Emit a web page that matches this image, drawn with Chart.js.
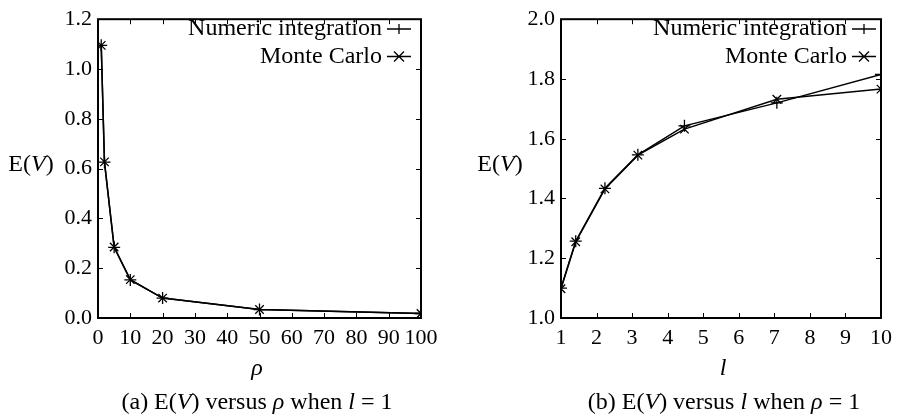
<!DOCTYPE html>
<html>
<head>
<meta charset="utf-8">
<script src="https://cdn.jsdelivr.net/npm/chart.js@4.4.0/dist/chart.umd.min.js"></script>
<style>
  body { margin: 0; background: #fff; }
  #wrap { position: relative; width: 899px; height: 416px; font-family: "Liberation Serif", serif; color: #000; }
  .box { position: absolute; top: 0; height: 416px; }
  .lbl { position: absolute; font-size: 24px; white-space: nowrap; transform: translate(-50%, -50%); }
  i { font-style: italic; }
</style>
</head>
<body>
<div id="wrap">
  <div class="box" style="left:0;width:450px"><canvas id="chartA" width="450" height="416"></canvas></div>
  <div class="box" style="left:450px;width:449px"><canvas id="chartB" width="449" height="416"></canvas></div>
  <div class="lbl" style="left:31px;top:163px">E(<i>V</i>)</div>
  <div class="lbl" style="left:500px;top:163px">E(<i>V</i>)</div>
  <div class="lbl" style="left:257px;top:367px"><i>ρ</i></div>
  <div class="lbl" style="left:723px;top:367px"><i>l</i></div>
  <div class="lbl" style="left:257px;top:401px">(a) E(<i>V</i>) versus <i>ρ</i> when <i>l</i> = 1</div>
  <div class="lbl" style="left:724px;top:401px">(b) E(<i>V</i>) versus <i>l</i> when <i>ρ</i> = 1</div>
</div>
<script>
// chart (a): E(V) against rho, l = 1
const rhoValues = [1, 2, 5, 10, 20, 50, 100];
const numericA = [1.095, 0.626, 0.284, 0.153, 0.080, 0.034, 0.018];
const monteCarloA = [1.095, 0.627, 0.285, 0.154, 0.080, 0.034, 0.018];

// chart (b): E(V) against l, rho = 1
const lValues = [1, 1.414, 2.236, 3.162, 4.472, 7.071, 10];
const numericB = [1.100, 1.257, 1.434, 1.546, 1.643, 1.720, 1.815];
const monteCarloB = [1.098, 1.255, 1.432, 1.545, 1.632, 1.732, 1.766];

const seriesNames = ["Numeric integration", "Monte Carlo"];
const FONT = "Liberation Serif";
const TICK_FONT = { family: FONT, size: 22 };

function toPoints(xs, ys) {
  return xs.map((x, i) => ({ x: x, y: ys[i] }));
}

// gnuplot-like frame: box border, inward ticks on all sides, legend on the right
const framePlugin = {
  id: "frame",
  afterDraw(chart, args, opts) {
    const ctx = chart.ctx;
    const a = chart.chartArea;
    const len = 5;
    ctx.save();
    ctx.strokeStyle = "#000";
    ctx.lineWidth = 1;
    const xs = chart.scales.x, ys = chart.scales.y;
    xs.ticks.forEach((t) => {
      const px = Math.round(xs.getPixelForValue(t.value)) + 0.5;
      ctx.beginPath();
      ctx.moveTo(px, a.bottom); ctx.lineTo(px, a.bottom - len);
      ctx.moveTo(px, a.top); ctx.lineTo(px, a.top + len);
      ctx.stroke();
    });
    ys.ticks.forEach((t) => {
      const py = Math.round(ys.getPixelForValue(t.value)) + 0.5;
      ctx.beginPath();
      ctx.moveTo(a.left, py); ctx.lineTo(a.left + len, py);
      ctx.moveTo(a.right, py); ctx.lineTo(a.right - len, py);
      ctx.stroke();
    });
    ctx.lineWidth = 2;
    ctx.strokeRect(a.left, a.top, a.right - a.left, a.bottom - a.top);

    // legend
    ctx.font = "24px " + FONT;
    ctx.textAlign = "right";
    ctx.textBaseline = "middle";
    ctx.fillStyle = "#000";
    chart.data.datasets.forEach((ds, i) => {
      const y = opts.top + i * 27.5;
      ctx.fillText(ds.label, opts.textRight, y);
      const x0 = opts.textRight + 5, x1 = x0 + 24, xm = (x0 + x1) / 2;
      ctx.lineWidth = 1.3;
      ctx.beginPath();
      ctx.moveTo(x0, y); ctx.lineTo(x1, y);
      const r = 5;
      if (ds.pointStyle === "cross") {
        ctx.moveTo(xm, y - r); ctx.lineTo(xm, y + r);
      } else {
        ctx.moveTo(xm - r, y - r); ctx.lineTo(xm + r, y + r);
        ctx.moveTo(xm - r, y + r); ctx.lineTo(xm + r, y - r);
      }
      ctx.stroke();
    });
    ctx.restore();
  }
};

function makeChart(id, xs, numeric, monte, xOpts, yOpts, pad, yWidth, legend) {
  new Chart(document.getElementById(id), {
    type: "line",
    data: {
      datasets: [
        {
          label: seriesNames[0],
          data: toPoints(xs, numeric),
          borderColor: "#000", borderWidth: 1.5,
          pointStyle: "cross", pointRadius: 6, pointBorderWidth: 1.3,
          pointBorderColor: "#000", tension: 0
        },
        {
          label: seriesNames[1],
          data: toPoints(xs, monte),
          borderColor: "#000", borderWidth: 1.5,
          pointStyle: "crossRot", pointRadius: 6, pointBorderWidth: 1.3,
          pointBorderColor: "#000", tension: 0
        }
      ]
    },
    options: {
      responsive: false,
      animation: false,
      layout: { padding: pad },
      plugins: { legend: { display: false }, tooltip: { enabled: false }, frame: legend },
      scales: {
        x: Object.assign({
          type: "linear",
          grid: { display: false, drawTicks: false },
          border: { display: false },
          afterFit: (s) => { s.height = 416 - pad.bottom - 318; }
        }, xOpts),
        y: Object.assign({
          type: "linear",
          grid: { display: false, drawTicks: false },
          border: { display: false },
          afterFit: (s) => { s.width = yWidth; }
        }, yOpts)
      }
    },
    plugins: [framePlugin]
  });
}

makeChart("chartA", rhoValues, numericA, monteCarloA,
  { min: 0, max: 100, ticks: { color: "#000", font: TICK_FONT, padding: 7, stepSize: 10, maxRotation: 0, autoSkip: false } },
  { min: 0, max: 1.2, ticks: { color: "#000", font: TICK_FONT, padding: 6, stepSize: 0.2, callback: (v) => v.toFixed(1) } },
  { left: 0, right: 29, top: 14, bottom: 0 }, 98,
  { textRight: 382, top: 29 });

makeChart("chartB", lValues, numericB, monteCarloB,
  { min: 1, max: 10, ticks: { color: "#000", font: TICK_FONT, padding: 7, stepSize: 1, maxRotation: 0, autoSkip: false } },
  { min: 1, max: 2, ticks: { color: "#000", font: TICK_FONT, padding: 6, stepSize: 0.2, callback: (v) => v.toFixed(1) } },
  { left: 0, right: 12, top: 13, bottom: 0 }, 111,
  { textRight: 397, top: 29 });
</script>
</body>
</html>
